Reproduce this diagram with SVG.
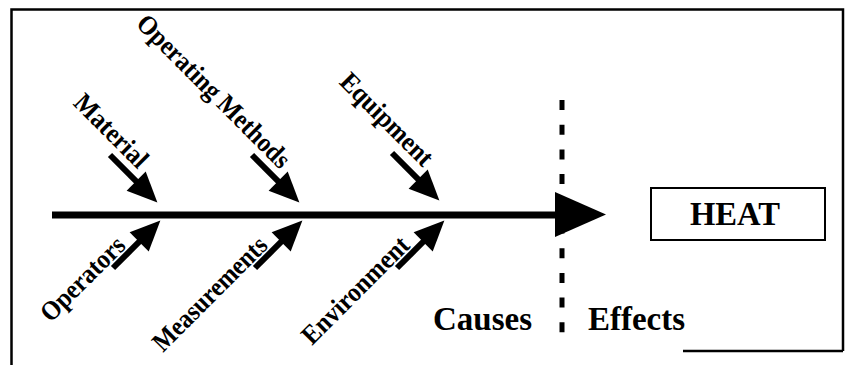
<svg xmlns="http://www.w3.org/2000/svg" xmlns:xlink="http://www.w3.org/1999/xlink" width="851" height="365" viewBox="0 0 851 365">
<style>
.lbl{font-family:"Liberation Serif","Times New Roman",serif;font-weight:bold;fill:#000}
.diag{font-size:27px}
.big{font-size:34px}
.frame{stroke:#000;stroke-width:2.5;fill:none}
</style>
<defs>
<g id="branch">
<line x1="0" y1="0" x2="40" y2="0" stroke="#000" stroke-width="6"/>
<polygon points="37,-13.5 67,0 37,13.5" fill="#000"/>
</g>
</defs>
<rect width="851" height="365" fill="#fff"/>
<g id="frame">
<polyline class="frame" points="11.5,365 11.5,9.5 843,9.5 843,351"/>
<line class="frame" x1="683" y1="351" x2="843" y2="351"/>
</g>
<g id="connectors">
<line x1="562" y1="100" x2="562" y2="334" stroke="#000" stroke-width="5" stroke-dasharray="10 14.7"/>
<line x1="52" y1="215" x2="558" y2="215" stroke="#000" stroke-width="7"/>
<polygon points="555,192 606,214.5 555,237" fill="#000"/>
<use xlink:href="#branch" transform="translate(110,155) rotate(45)"/>
<use xlink:href="#branch" transform="translate(252,155) rotate(45)"/>
<use xlink:href="#branch" transform="translate(392,153) rotate(45)"/>
<use xlink:href="#branch" transform="translate(113,268) rotate(-45)"/>
<use xlink:href="#branch" transform="translate(255,268) rotate(-45)"/>
<use xlink:href="#branch" transform="translate(397,268) rotate(-45)"/>
</g>
<g id="material"><text class="lbl diag" text-anchor="end" textLength="93" lengthAdjust="spacingAndGlyphs" transform="translate(138,170) rotate(45)">Material</text></g>
<g id="operating-methods"><text class="lbl diag" text-anchor="end" textLength="205" lengthAdjust="spacingAndGlyphs" transform="translate(280,170) rotate(45)">Operating Methods</text></g>
<g id="equipment"><text class="lbl diag" text-anchor="end" textLength="120" lengthAdjust="spacingAndGlyphs" transform="translate(423,168) rotate(45)">Equipment</text></g>
<g id="operators"><text class="lbl diag" text-anchor="end" textLength="108" lengthAdjust="spacingAndGlyphs" transform="translate(127,247) rotate(-45)">Operators</text></g>
<g id="measurements"><text class="lbl diag" text-anchor="end" textLength="150" lengthAdjust="spacingAndGlyphs" transform="translate(269,247) rotate(-45)">Measurements</text></g>
<g id="environment"><text class="lbl diag" text-anchor="end" textLength="140" lengthAdjust="spacingAndGlyphs" transform="translate(411,247) rotate(-45)">Environment</text></g>
<g id="causes"><text class="lbl big" x="433" y="330" textLength="99" lengthAdjust="spacingAndGlyphs">Causes</text></g>
<g id="effects"><text class="lbl big" x="588" y="330" textLength="97" lengthAdjust="spacingAndGlyphs">Effects</text></g>
<g id="heat">
<rect x="651" y="188" width="174" height="52" fill="none" stroke="#000" stroke-width="2"/>
<text class="lbl big" x="735" y="225" text-anchor="middle" textLength="90" lengthAdjust="spacingAndGlyphs">HEAT</text>
</g>
</svg>
